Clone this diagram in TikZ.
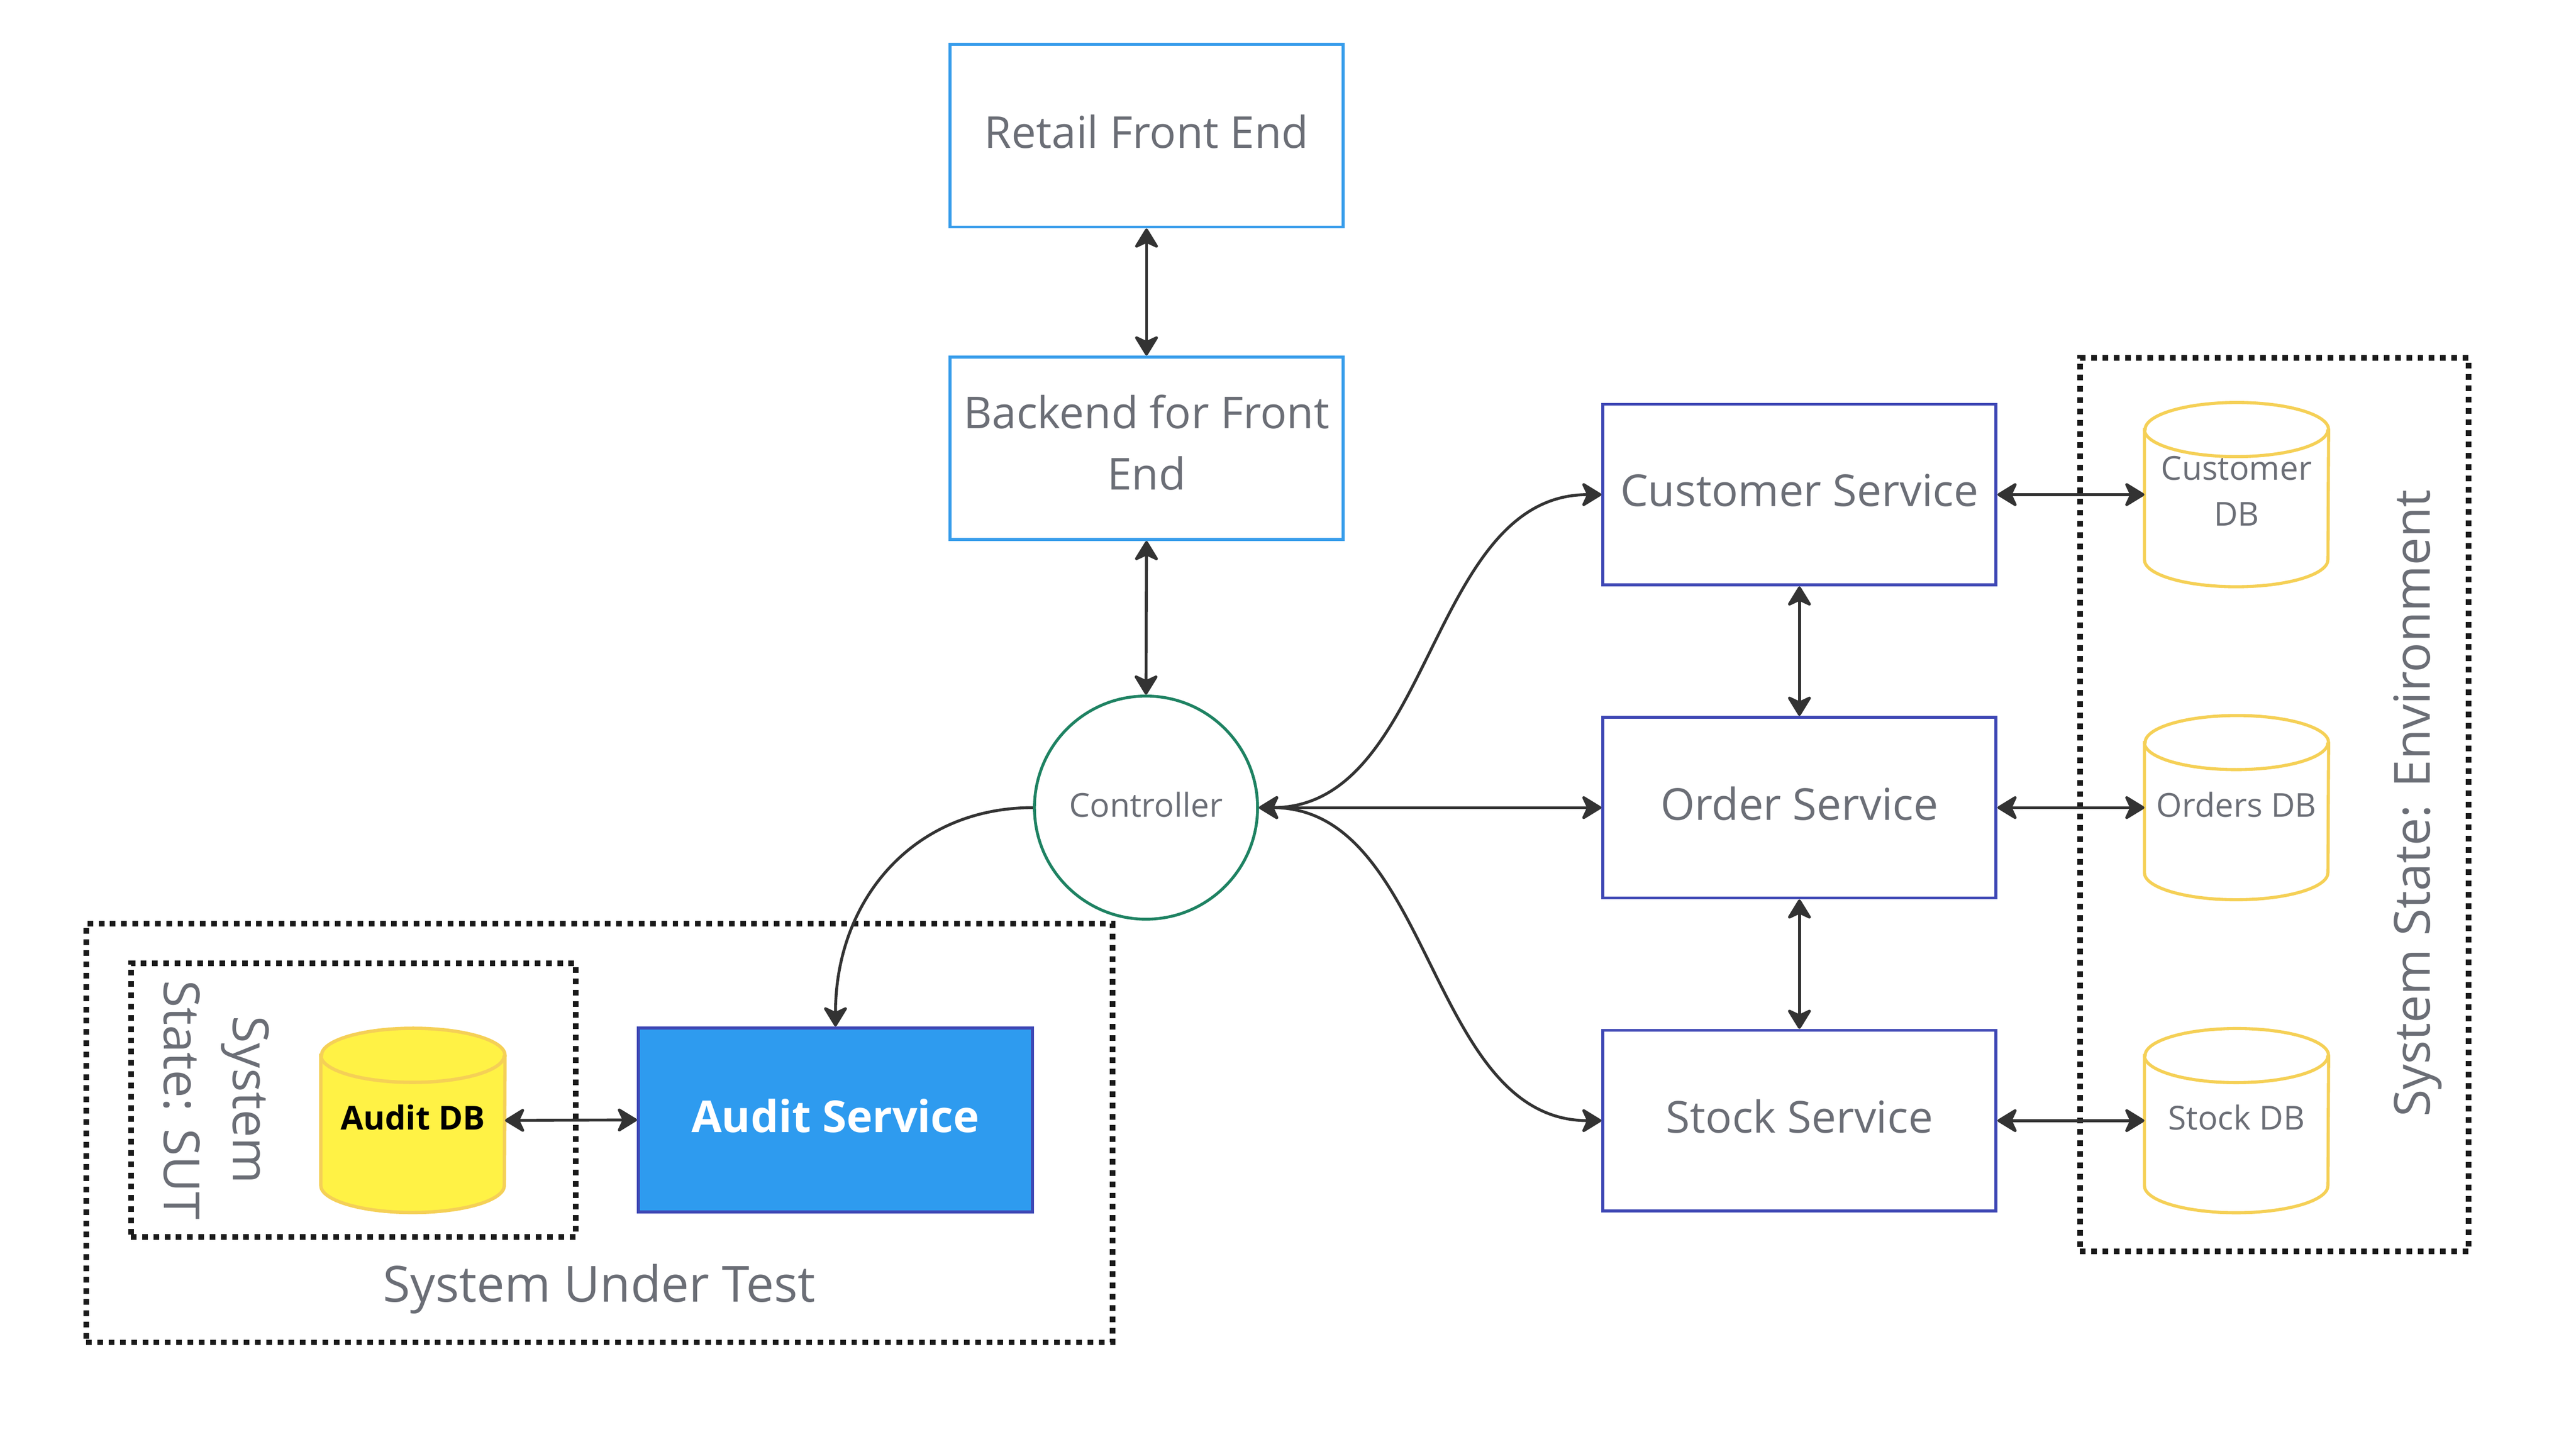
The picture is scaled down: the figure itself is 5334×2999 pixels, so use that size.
\documentclass[tikz,border=0pt]{standalone}
\usepackage{fontspec}
\setmainfont{Open Sans}
\usetikzlibrary{arrows.meta,calc}
\definecolor{textgrey}{RGB}{107,110,118}
\definecolor{feblue}{RGB}{56,157,235}
\definecolor{svcindigo}{RGB}{63,72,181}
\definecolor{ctrlgreen}{RGB}{30,130,98}
\definecolor{auditfill}{RGB}{46,155,239}
\definecolor{dbyellow}{RGB}{245,208,86}
\definecolor{auditdbfill}{RGB}{255,242,69}
\definecolor{arrowc}{RGB}{51,51,51}
\definecolor{framec}{RGB}{26,26,26}
\newcommand\szBig{\fontsize{25.9pt}{36pt}\selectfont}
\newcommand\szSmall{\fontsize{19.4pt}{27pt}\selectfont}
\newcommand\szLabel{\fontsize{29.3pt}{40.5pt}\selectfont}
\pgfdeclarelayer{bg}
\pgfsetlayers{bg,main}
\newcommand\cylfor[2]{%
  \path[#2] ($(#1.north west)+(0,-5.6mm)$) -- ($(#1.south west)+(0,5.6mm)$)
    arc[start angle=180,end angle=360,x radius=19mm,y radius=5.6mm]
    -- ($(#1.north east)+(0,-5.6mm)$)
    arc[start angle=0,end angle=180,x radius=19mm,y radius=5.6mm] -- cycle;
  \path[#2,fill=none] ($(#1.north west)+(0,-5.6mm)$)
    arc[start angle=180,end angle=360,x radius=19mm,y radius=5.6mm];}
\tikzset{
  >={Stealth[length=4.6mm,width=5.6mm,inset=1.3mm,round]},
  conn/.style={draw=arrowc, line width=0.6mm, <->},
  oneway/.style={draw=arrowc, line width=0.6mm, ->},
  svcbox/.style={draw=svcindigo, line width=0.6mm, minimum width=81.4mm,
    minimum height=37.4mm, inner sep=0pt, text=textgrey, font=\szBig, align=center,
    text depth=1.8mm},
  febox/.style={svcbox, draw=feblue, minimum height=37.8mm},
  auditbox/.style={svcbox, fill=auditfill, text=white, font=\szBig\bfseries,
    minimum width=81.6mm, minimum height=38.1mm},
  ctrlnode/.style={circle, draw=ctrlgreen, line width=0.6mm, minimum size=46.2mm,
    inner sep=0pt, text=textgrey, font=\szSmall, text depth=1.4mm},
  dbnode/.style={rectangle, minimum width=38mm, minimum height=38mm, inner sep=0pt,
    text=textgrey, font=\szSmall, align=center, text depth=1.4mm},
  dbshape/.style={draw=dbyellow, line width=0.65mm, fill=white},
  auditdbshape/.style={draw=dbyellow, line width=0.7mm, fill=auditdbfill},
  frame/.style={draw=framec, line width=1.17mm, dash pattern=on 1.17mm off 1.16mm,
    inner sep=0pt},
  lbl/.style={text=textgrey, font=\szLabel, inner sep=0pt, align=center},
}
\begin{document}
\begin{tikzpicture}[x=0.1mm,y=-0.1mm]
\useasboundingbox (0,0) rectangle (5334,2999);
% frames
\node[frame, minimum width=212.5mm, minimum height=86.7mm] (sutframe) at (1241,2345.5) {};
\node[frame, minimum width=92.1mm, minimum height=56.7mm] (stateframe) at (731.5,2277.5) {};
\node[frame, minimum width=80.5mm, minimum height=185mm] (envframe) at (4709.5,1666) {};
% front end
\node[febox] (retail) at (2374,281) {Retail Front End};
\node[febox, text depth=2.4mm] (backend) at (2374,928) {Backend for Front\\End};
% controller
\node[ctrlnode] (ctrl) at (2373,1672) {Controller};
% services
\node[svcbox] (cust) at (3726,1024) {Customer Service};
\node[svcbox] (order) at (3726,1672) {Order Service};
\node[svcbox] (stock) at (3726,2320) {Stock Service};
\node[auditbox] (audit) at (1730,2318.5) {Audit Service};
% databases
\node[dbnode] (cdb) at (4631,1024) {Customer\\DB};
\node[dbnode] (odb) at (4631,1672) {Orders DB};
\node[dbnode] (sdb) at (4631,2320) {Stock DB};
\node[dbnode, text=black, font=\szSmall\bfseries] (adb) at (855,2319.5) {Audit DB};
\begin{pgfonlayer}{bg}
\cylfor{cdb}{dbshape}
\cylfor{odb}{dbshape}
\cylfor{sdb}{dbshape}
\cylfor{adb}{auditdbshape}
\end{pgfonlayer}
% labels
\node[lbl, anchor=base] (sutlbl) at (1241,2695) {System Under Test};
\node[lbl, rotate=-90] (sutstate) at (448,2277) {System\\State: SUT};
\node[lbl, rotate=90, anchor=base] (envlbl) at (5032,1663) {System State: Environment};
% connectors
\draw[conn] (retail.south) -- (backend.north);
\draw[conn] (backend.south) -- (ctrl.north);
\draw[conn] (ctrl.east) -- (order.west);
\draw[conn] (ctrl.east) .. controls +(360,0) and +(-360,0) .. (cust.west);
\draw[conn] (ctrl.east) .. controls +(360,0) and +(-360,0) .. (stock.west);
\draw[oneway] (ctrl.west) .. controls +(-250,0) and +(0,-260) .. (audit.north);
\draw[conn] (cust.south) -- (order.north);
\draw[conn] (order.south) -- (stock.north);
\draw[conn] (cust.east) -- (cdb.west);
\draw[conn] (order.east) -- (odb.west);
\draw[conn] (stock.east) -- (sdb.west);
\draw[conn] (adb.east) -- (audit.west);
\end{tikzpicture}
\end{document}
